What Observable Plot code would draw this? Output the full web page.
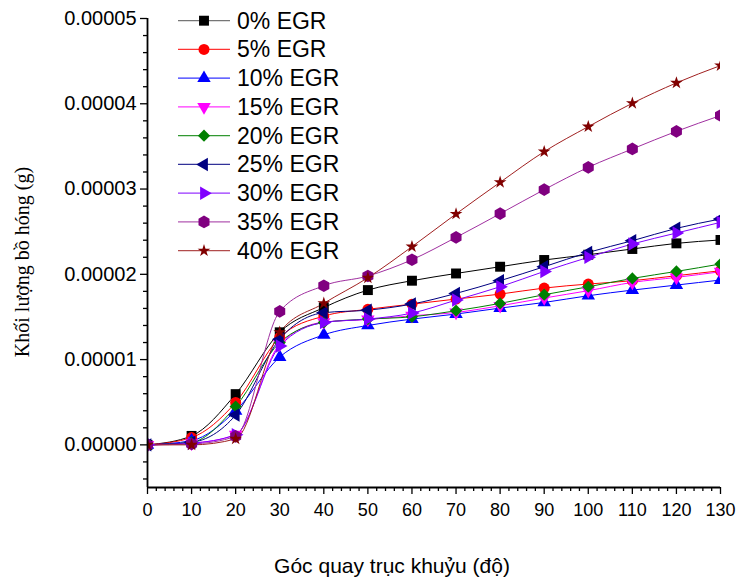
<!DOCTYPE html>
<html>
<head>
<meta charset="utf-8">
<script src="https://cdn.jsdelivr.net/npm/d3@7"></script>
<script src="https://cdn.jsdelivr.net/npm/@observablehq/plot@0.6"></script>
<style>
  body { margin: 0; background: #fff; }
  #wrap { position: relative; width: 737px; height: 579px; }
  #legend { position: absolute; left: 0; top: 0; pointer-events: none; }
</style>
</head>
<body>
<div id="wrap"></div>
<script>
// ---- data (soot mass, grams) ----
const angles = [0, 10, 20, 30, 40, 50, 60, 70, 80, 90, 100, 110, 120, 130];
const seriesNames = ["0% EGR", "5% EGR", "10% EGR", "15% EGR", "20% EGR", "25% EGR", "30% EGR", "35% EGR", "40% EGR"];
const egr0  = [0, 0.105e-5, 0.595e-5, 1.32e-5, 1.61e-5, 1.815e-5, 1.925e-5, 2.01e-5, 2.089e-5, 2.168e-5, 2.23e-5, 2.297e-5, 2.363e-5, 2.403e-5];
const egr5  = [0, 0.086e-5, 0.497e-5, 1.26e-5, 1.51e-5, 1.59e-5, 1.65e-5, 1.71e-5, 1.768e-5, 1.839e-5, 1.886e-5, 1.925e-5, 1.984e-5, 2.042e-5];
const egr10 = [0, 0.05e-5, 0.40e-5, 1.03e-5, 1.29e-5, 1.40e-5, 1.475e-5, 1.534e-5, 1.604e-5, 1.670e-5, 1.749e-5, 1.815e-5, 1.874e-5, 1.933e-5];
const egr15 = [0, 0.02e-5, 0.12e-5, 1.18e-5, 1.44e-5, 1.47e-5, 1.514e-5, 1.553e-5, 1.631e-5, 1.722e-5, 1.808e-5, 1.905e-5, 1.964e-5, 2.03e-5];
const egr20 = [0, 0.03e-5, 0.45e-5, 1.20e-5, 1.435e-5, 1.475e-5, 1.502e-5, 1.573e-5, 1.659e-5, 1.761e-5, 1.854e-5, 1.952e-5, 2.034e-5, 2.121e-5];
const egr25 = [0, 0.03e-5, 0.35e-5, 1.24e-5, 1.55e-5, 1.58e-5, 1.651e-5, 1.776e-5, 1.925e-5, 2.089e-5, 2.257e-5, 2.394e-5, 2.539e-5, 2.649e-5];
const egr30 = [0, 0.02e-5, 0.12e-5, 1.16e-5, 1.435e-5, 1.475e-5, 1.545e-5, 1.698e-5, 1.854e-5, 2.034e-5, 2.199e-5, 2.356e-5, 2.484e-5, 2.609e-5];
const egr35 = [0, 0.01e-5, 0.10e-5, 1.565e-5, 1.866e-5, 1.98e-5, 2.171e-5, 2.433e-5, 2.711e-5, 2.993e-5, 3.255e-5, 3.47e-5, 3.677e-5, 3.862e-5];
const egr40 = [0, 0.0, 0.07e-5, 1.32e-5, 1.66e-5, 1.96e-5, 2.324e-5, 2.708e-5, 3.079e-5, 3.439e-5, 3.732e-5, 4.006e-5, 4.245e-5, 4.448e-5];
const seriesValues = [egr0, egr5, egr10, egr15, egr20, egr25, egr30, egr35, egr40];

const xMajorTicks = [0, 10, 20, 30, 40, 50, 60, 70, 80, 90, 100, 110, 120, 130];
const yMajorTicks = [0, 0.00001, 0.00002, 0.00003, 0.00004, 0.00005];
const yTickLabels = ["0.00000", "0.00001", "0.00002", "0.00003", "0.00004", "0.00005"];
const xTitle = "Góc quay trục khuỷu (độ)";
const yTitle = "Khối lượng bồ hóng (g)";

// ---- styles ----
const markerColors = ["#000000", "#ff0000", "#0000ff", "#ff00ff", "#008000", "#000080", "#8000ff", "#800080", "#800000"];
const lineColors   = ["#000000", "#ff0000", "#0000ff", "#ff00ff", "#008000", "#000080", "#8000ff", "#a030a0", "#a02020"];

function triangle(angleDeg) {
  return {
    draw(ctx, size) {
      const R = 2 * Math.sqrt(size / (3 * Math.sqrt(3)));
      for (let k = 0; k < 3; k++) {
        const a = (angleDeg + k * 120) * Math.PI / 180;
        const px = R * Math.sin(a), py = -R * Math.cos(a);
        if (k === 0) ctx.moveTo(px, py); else ctx.lineTo(px, py);
      }
      ctx.closePath();
    }
  };
}
const hexagonSym = {
  draw(ctx, size) {
    const rx = Math.sqrt(size / Math.PI), ry = rx * 2 / Math.sqrt(3), hy = ry / 2;
    ctx.moveTo(0, ry); ctx.lineTo(rx, hy); ctx.lineTo(rx, -hy);
    ctx.lineTo(0, -ry); ctx.lineTo(-rx, -hy); ctx.lineTo(-rx, hy); ctx.closePath();
  }
};
const symbols = [d3.symbolSquare, d3.symbolCircle, triangle(0), triangle(180), d3.symbolDiamond2,
                 triangle(-90), triangle(90), hexagonSym, d3.symbolStar];
const radii = [5.6, 5.5, 5, 5, 5.5, 5, 5, 5.5, 4];

// ---- table ----
const rows = [];
seriesNames.forEach((name, i) => {
  angles.forEach((a, j) => rows.push({series: name, idx: i, angle: a, value: seriesValues[i][j]}));
});

const xMinor = d3.range(0, 131, 2).filter(v => v % 10 !== 0);
const yMinor = d3.range(-2, 26).map(k => k * 2e-6).filter(v => Math.abs(v / 1e-5 - Math.round(v / 1e-5)) > 1e-6);

const marks = [];
seriesNames.forEach((name, i) => {
  const d = rows.filter(r => r.idx === i);
  marks.push(Plot.line(d, {x: "angle", y: "value", stroke: lineColors[i], strokeWidth: 1, curve: "monotone-x", clip: true}));
});
seriesNames.forEach((name, i) => {
  const d = rows.filter(r => r.idx === i);
  marks.push(Plot.dot(d, {x: "angle", y: "value", symbol: symbols[i], r: radii[i], fill: markerColors[i], stroke: "none", clip: true}));
});

const chart = Plot.plot({
  width: 737,
  height: 579,
  marginLeft: 147,
  marginRight: 17,
  marginTop: 18,
  marginBottom: 92,
  style: {fontFamily: "'Liberation Sans', Arial, sans-serif", background: "#fff", color: "#000", overflow: "visible"},
  x: {domain: [0, 130]},
  y: {domain: [-0.000005, 0.00005]},
  marks: [
    ...marks,
    Plot.axisX({ticks: xMinor, tickSize: 4, tickFormat: () => "", strokeWidth: 1.3, label: null}),
    Plot.axisX({ticks: xMajorTicks, tickSize: 7, tickPadding: 9, fontSize: 18, strokeWidth: 1.3, label: null}),
    Plot.axisY({ticks: yMinor, tickSize: 4, tickFormat: () => "", strokeWidth: 1.3, label: null}),
    Plot.axisY({ticks: yMajorTicks, tickSize: 7, tickPadding: 4, fontSize: 20, strokeWidth: 1.3, label: null,
                tickFormat: v => yTickLabels[Math.round(v / 1e-5)]}),
    Plot.ruleX([0], {stroke: "#000", strokeWidth: 1.8}),
    Plot.ruleY([-0.000005], {stroke: "#000", strokeWidth: 1.8})
  ]
});

const wrap = document.getElementById("wrap");
wrap.appendChild(chart);

const svg = d3.select(chart);
svg.append("text")
  .attr("transform", "translate(22,262) rotate(-90)")
  .attr("text-anchor", "middle")
  .attr("dominant-baseline", "central")
  .attr("font-family", "'Liberation Serif', 'Times New Roman', serif")
  .attr("font-size", 20)
  .attr("fill", "#000")
  .text(yTitle);
svg.append("text")
  .attr("x", 392)
  .attr("y", 573)
  .attr("text-anchor", "middle")
  .attr("font-family", "'Liberation Sans', Arial, sans-serif")
  .attr("font-size", 21)
  .attr("fill", "#000")
  .text(xTitle);

// ---- legend (inside plot, top-left) ----
const leg = d3.select(wrap).append("svg")
  .attr("id", "legend").attr("width", 737).attr("height", 579);
seriesNames.forEach((name, i) => {
  const cy = 20.7 + i * 28.75;
  const g = leg.append("g");
  g.append("line").attr("x1", 178).attr("x2", 230).attr("y1", cy).attr("y2", cy)
    .attr("stroke", i === 0 ? "#555" : lineColors[i]).attr("stroke-width", 1.2).attr("opacity", 0.8);
  g.append("path")
    .attr("d", d3.symbol().type(symbols[i]).size(Math.PI * radii[i] * radii[i])())
    .attr("transform", `translate(204,${cy})`)
    .attr("fill", markerColors[i]);
  g.append("text").attr("x", 237).attr("y", cy)
    .attr("dominant-baseline", "central")
    .attr("font-family", "'Liberation Sans', Arial, sans-serif")
    .attr("font-size", 23).attr("fill", "#000")
    .text(name);
});
</script>
</body>
</html>
